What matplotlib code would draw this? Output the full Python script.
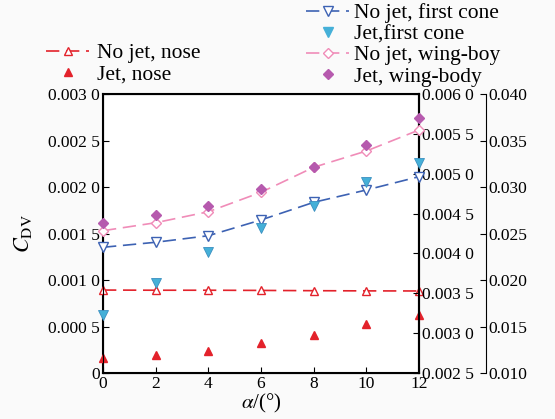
import matplotlib
matplotlib.use("Agg")
import matplotlib.pyplot as plt
from matplotlib.ticker import FuncFormatter, MultipleLocator
from matplotlib.lines import Line2D

plt.rcParams['font.family'] = ['Liberation Serif', 'DejaVu Serif']
plt.rcParams['mathtext.fontset'] = 'stix'

alpha = [0, 2, 4, 6, 8, 10, 12]
nojet_nose = [0.000892, 0.000890, 0.000890, 0.000888, 0.000885, 0.000883, 0.000882]
jet_nose = [0.000161, 0.000194, 0.000237, 0.000319, 0.000409, 0.000523, 0.000624]
nojet_cone = [0.004077, 0.00414, 0.004222, 0.00442, 0.004641, 0.004796, 0.004963]
jet_cone = [0.003228, 0.003633, 0.004022, 0.004315, 0.004595, 0.004892, 0.005138]
nojet_wing = [0.0253, 0.02616, 0.02734, 0.02943, 0.03212, 0.03387, 0.03613]
jet_wing = [0.0261, 0.02699, 0.02796, 0.02975, 0.03218, 0.03452, 0.03739]

red = '#e3222b'
blue = '#3d62b3'
cyan = '#45b0d8'
pink = '#f08cb8'
purple = '#b65aae'

fig = plt.figure(figsize=(5.55, 4.19), dpi=100)
fig.patch.set_facecolor('#fafafa')
ax = fig.add_axes([103/555, 1-373/419, 316/555, 279/419])
ax.set_facecolor('white')
ax2 = ax.twinx()
ax3 = ax.twinx()
ax3.spines['right'].set_position(('axes', (486-103)/316))
for s in ['top', 'left', 'bottom']:
    ax3.spines[s].set_visible(False)
ax3.spines['right'].set_linewidth(0.8)

dash = (8, 4)
ax.plot(alpha, nojet_nose, color=red, lw=1.2, dashes=dash, marker='^', ms=6,
        mfc='white', mec=red, mew=1.0, clip_on=False, zorder=3)
ax.plot(alpha, jet_nose, ls='none', marker='^', ms=5.5, color=red, clip_on=False, zorder=3)
ax2.plot(alpha, nojet_cone, color=blue, lw=1.2, dashes=dash, marker='v', ms=6.5,
         mfc='white', mec=blue, mew=1.0, clip_on=False, zorder=3)
ax2.plot(alpha, jet_cone, ls='none', marker='v', ms=6.5, color=cyan, mec='#3a8fc0', mew=0.6,
         clip_on=False, zorder=3)
ax3.plot(alpha, nojet_wing, color=pink, lw=1.2, dashes=dash, marker='D', ms=5.5,
         mfc='white', mec=pink, mew=1.0, clip_on=False, zorder=3)
ax3.plot(alpha, jet_wing, ls='none', marker='D', ms=5.5, color=purple, clip_on=False, zorder=3)

ax.set_xlim(0, 12)
ax.set_ylim(0, 0.003)
ax2.set_ylim(0.0025, 0.006)
ax3.set_ylim(0.010, 0.040)
ax.xaxis.set_major_locator(MultipleLocator(2))
ax.yaxis.set_major_locator(MultipleLocator(0.0005))
ax2.yaxis.set_major_locator(MultipleLocator(0.0005))
ax3.yaxis.set_major_locator(MultipleLocator(0.005))

def fmt4(v, pos):
    if abs(v) < 1e-12:
        return '0'
    s = f'{v:.4f}'
    return s[:5] + ' ' + s[5:]

ax.yaxis.set_major_formatter(FuncFormatter(fmt4))
ax2.yaxis.set_major_formatter(FuncFormatter(fmt4))
ax3.yaxis.set_major_formatter(FuncFormatter(lambda v, p: f'{v:.3f}'))

for a in (ax, ax2, ax3):
    a.tick_params(direction='in', labelsize=12.5, length=4, width=0.8, pad=2)
ax.tick_params(axis='x', pad=2)
for s in ax.spines.values():
    s.set_linewidth(1.5)
ax2.spines['right'].set_linewidth(1.5)

ax.set_xlabel(r'$\alpha$/(°)', fontsize=15, labelpad=0)
ax.set_ylabel(r'$C_{\rm DV}$', fontsize=16, labelpad=10)

h1 = [Line2D([], [], color=red, lw=1.2, dashes=dash, marker='^', ms=6, mfc='white', mec=red),
      Line2D([], [], ls='none', marker='^', ms=5.5, color=red)]
fig.legend(h1, ['No jet, nose', 'Jet, nose'], loc='upper left',
           bbox_to_anchor=(46/555, 1-43/419), frameon=False, fontsize=15.5,
           handlelength=2.0, handletextpad=0.35, labelspacing=0.05, borderpad=0, borderaxespad=0)
h2 = [Line2D([], [], color=blue, lw=1.2, dashes=dash, marker='v', ms=6.5, mfc='white', mec=blue),
      Line2D([], [], ls='none', marker='v', ms=6.5, color=cyan),
      Line2D([], [], color=pink, lw=1.2, dashes=dash, marker='D', ms=5.5, mfc='white', mec=pink),
      Line2D([], [], ls='none', marker='D', ms=5.5, color=purple)]
fig.legend(h2, ['No jet, first cone', 'Jet,first cone', 'No jet, wing-boy', 'Jet, wing-body'],
           loc='upper left', bbox_to_anchor=(306/555, 1-3/419), frameon=False, fontsize=15.5,
           handlelength=2.0, handletextpad=0.25, labelspacing=0.05, borderpad=0, borderaxespad=0)

fig.savefig('out.png', dpi=100, facecolor=fig.get_facecolor())
